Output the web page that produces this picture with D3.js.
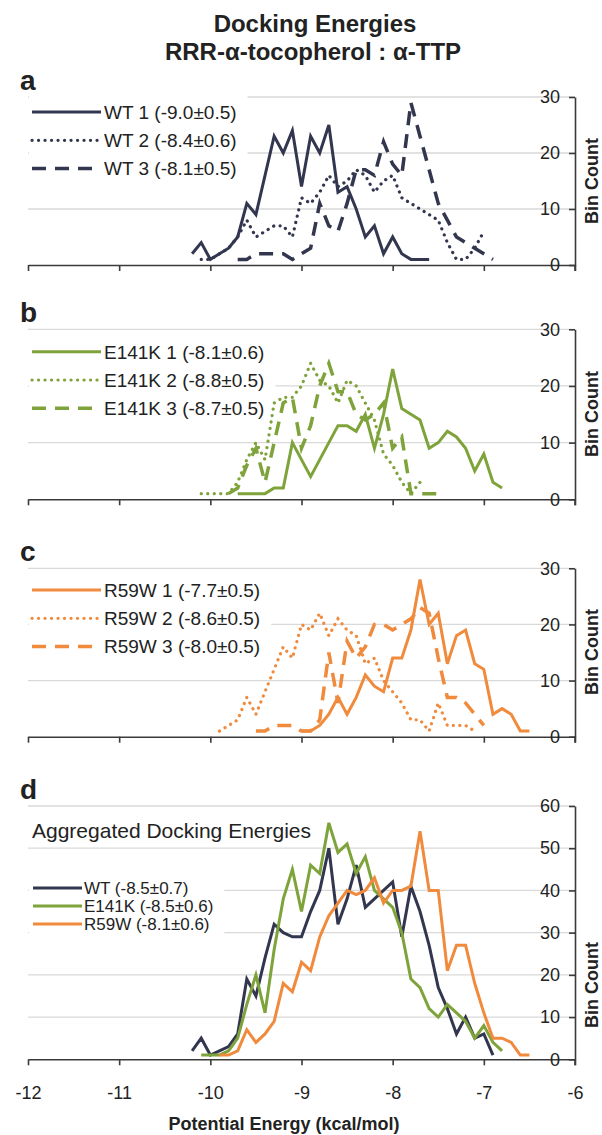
<!DOCTYPE html>
<html><head><meta charset="utf-8">
<script src="https://cdn.jsdelivr.net/npm/d3@7"></script>
<style>
body{margin:0;background:#fff}
svg text{font-family:"Liberation Sans",Arial,Helvetica,sans-serif;fill:#222}
</style>
</head><body>
<svg id="chart" width="602" height="1135"></svg>
<script>
// ---------- DATA ----------
const bins = [-10.2,-10.1,-10.0,-9.9,-9.8,-9.7,-9.6,-9.5,-9.4,-9.3,-9.2,-9.1,-9.0,-8.9,-8.8,-8.7,-8.6,-8.5,-8.4,-8.3,-8.2,-8.1,-8.0,-7.9,-7.8,-7.7,-7.6,-7.5,-7.4,-7.3,-7.2,-7.1,-7.0,-6.9,-6.8,-6.7,-6.6,-6.5];
const xTicks = [-12,-11,-10,-9,-8,-7,-6];
const yTicksRun = [0,10,20,30];
const yTicksAgg = [0,10,20,30,40,50,60];

const titleLines = ["Docking Energies","RRR-\u03b1-tocopherol : \u03b1-TTP"];
const xTitle = "Potential Energy (kcal/mol)";
const yTitle = "Bin Count";
const aggTitle = "Aggregated Docking Energies";

const WT1_START = -10.2;
const WT1 = [2,4,1,2,3,5,11,9,16,23,20,24,14,23,20,25,13,14,10,5,7,2,5,2,1,1,1];
const WT2_START = -10.1;
const WT2 = [1,1,2,3,5,8,5,6,7,7,5,12,11,13,16,14,15,17,16,13,15,16,12,11,10,9,8,4,1,1,3,6];
const WT3_START = -9.7;
const WT3 = [1,1,2,2,2,2,1,2,3,11,7,6,11,17,17,16,22,18,16,29,23,17,11,8,5,4,3,2,1];

const E1_START = -9.7;
const E1 = [1,1,1,1,2,2,10,7,4,7,10,13,13,12,15,9,15,23,16,15,14,9,10,12,11,9,5,8,3,2];
const E2_START = -10.1;
const E2 = [1,1,1,1,3,7,10,7,17,18,18,20,24,21,20,17,21,20,17,14,8,6,3,1,3];
const E3_START = -9.8;
const E3 = [1,2,6,9,3,10,17,18,9,13,20,24,19,19,15,14,15,17,9,11,1,1,1,1];

const R1_START = -9.0;
const R1 = [1,1,2,4,7,4,7,11,9,8,14,14,19,28,20,22,13,18,19,13,12,4,5,4,1,1];
const R2_START = -9.9;
const R2 = [1,2,3,7,4,8,12,16,14,20,19,22,18,21,19,18,13,14,10,8,6,3,3,1,6,2,2,2,1];
const R3_START = -9.5;
const R3 = [1,1,2,2,2,1,1,3,15,6,17,14,16,20,20,19,20,21,23,22,14,7,7,6,4,2];

const WT_ALL_START = -10.2;
const WT_ALL = [2,5,1,2,3,6,19,15,24,32,30,29,29,35,40,50,32,38,46,36,38,40,42,29,41,35,27,17,12,6,10,5,6,1];
const E_ALL_START = -10.1;
const E_ALL = [1,1,1,2,5,13,20,11,26,38,45,35,46,44,56,49,51,44,48,40,38,36,30,19,17,12,10,13,11,9,5,8,4,2];
const R_ALL_START = -9.9;
const R_ALL = [1,1,2,7,4,6,9,18,16,23,21,29,34,37,40,39,40,43,37,40,40,41,54,40,40,21,27,27,18,11,5,5,4,1,1];

const labelsA = ["WT 1 (-9.0\u00b10.5)","WT 2 (-8.4\u00b10.6)","WT 3 (-8.1\u00b10.5)"];
const labelsB = ["E141K 1 (-8.1\u00b10.6)","E141K 2 (-8.8\u00b10.5)","E141K 3 (-8.7\u00b10.5)"];
const labelsC = ["R59W 1 (-7.7\u00b10.5)","R59W 2 (-8.6\u00b10.5)","R59W 3 (-8.0\u00b10.5)"];
const labelsD = ["WT (-8.5\u00b10.7)","E141K (-8.5\u00b10.6)","R59W (-8.1\u00b10.6)"];
const panelLetters = ["a","b","c","d"];

// ---------- STYLE ----------
const cDark = "#33364f", cGreen = "#7fa33b", cOrange = "#f08a3c";
const styles = {
  solid: {dash: null, w: 3, cap: "butt"},
  dot:   {dash: "0.1 6.4", w: 3.2, cap: "round"},
  dash:  {dash: "14 9", w: 3.5, cap: "butt"}
};

function toPoints(start, counts) {
  const i0 = bins.findIndex(b => Math.abs(b - start) < 1e-9);
  return counts.map((c, i) => ({e: bins[i0 + i], c}));
}

const svg = d3.select("#chart");
const x = d3.scaleLinear().domain([-12, -6]).range([28, 575]);

const panels = [
  {letter: panelLetters[0], y0: 265, yTop: 97, ymax: 30, ticks: yTicksRun, binY: 181,
   legend: {rows: [112, 140.3, 168.6], x1: 32, x2: 101, tx: 104, fs: 19, boxTop: 95, boxBot: 184},
   series: [
     {pts: toPoints(WT1_START, WT1), color: cDark, st: "solid", label: labelsA[0]},
     {pts: toPoints(WT2_START, WT2), color: cDark, st: "dot", label: labelsA[1]},
     {pts: toPoints(WT3_START, WT3), color: cDark, st: "dash", label: labelsA[2]}]},
  {letter: panelLetters[1], y0: 499.3, yTop: 329.3, ymax: 30, ticks: yTicksRun, binY: 414,
   legend: {rows: [351.7, 380, 408.3], x1: 32, x2: 101, tx: 104, fs: 19, boxTop: 336, boxBot: 425},
   series: [
     {pts: toPoints(E1_START, E1), color: cGreen, st: "solid", label: labelsB[0]},
     {pts: toPoints(E2_START, E2), color: cGreen, st: "dot", label: labelsB[1]},
     {pts: toPoints(E3_START, E3), color: cGreen, st: "dash", label: labelsB[2]}]},
  {letter: panelLetters[2], y0: 736.7, yTop: 568.3, ymax: 30, ticks: yTicksRun, binY: 652,
   legend: {rows: [590, 618.3, 646.6], x1: 32, x2: 101, tx: 104, fs: 19, boxTop: 574, boxBot: 662},
   series: [
     {pts: toPoints(R1_START, R1), color: cOrange, st: "solid", label: labelsC[0]},
     {pts: toPoints(R2_START, R2), color: cOrange, st: "dot", label: labelsC[1]},
     {pts: toPoints(R3_START, R3), color: cOrange, st: "dash", label: labelsC[2]}]},
  {letter: panelLetters[3], y0: 1059.3, yTop: 806, ymax: 60, ticks: yTicksAgg, binY: 985, showX: true,
   legend: {rows: [888, 906, 924], x1: 33, x2: 82, tx: 84, fs: 17, boxTop: 873, boxBot: 940},
   series: [
     {pts: toPoints(WT_ALL_START, WT_ALL), color: cDark, st: "solid", label: labelsD[0]},
     {pts: toPoints(E_ALL_START, E_ALL), color: cGreen, st: "solid", label: labelsD[1]},
     {pts: toPoints(R_ALL_START, R_ALL), color: cOrange, st: "solid", label: labelsD[2]}]}
];

// Title
svg.append("text").attr("x", 315).attr("y", 32).attr("text-anchor", "middle")
  .attr("font-size", 24).attr("font-weight", "bold").text(titleLines[0]);
svg.append("text").attr("x", 313).attr("y", 60).attr("text-anchor", "middle")
  .attr("font-size", 24).attr("font-weight", "bold").text(titleLines[1]);

panels.forEach(p => {
  const y = d3.scaleLinear().domain([0, p.ymax]).range([p.y0, p.yTop]);
  const g = svg.append("g");

  // gridlines
  g.selectAll("line.grid").data(p.ticks.filter(t => t > 0)).join("line")
    .attr("class", "grid")
    .attr("x1", x(-12)).attr("x2", x(-6))
    .attr("y1", d => y(d)).attr("y2", d => y(d))
    .attr("stroke", "#d9d9d9").attr("stroke-width", 1.3);

  const bg = g.append("rect").attr("fill", "#fff");

  // series
  const line = d3.line().defined(d => d.c != null).x(d => x(d.e)).y(d => y(d.c));
  g.selectAll("path.series").data(p.series).join("path")
    .attr("class", "series")
    .attr("d", d => line(d.pts))
    .attr("fill", "none")
    .attr("stroke", d => d.color)
    .attr("stroke-width", d => styles[d.st].w)
    .attr("stroke-dasharray", d => styles[d.st].dash)
    .attr("stroke-linecap", d => styles[d.st].cap)
    .attr("stroke-linejoin", "miter");

  // x axis
  const xa = g.append("g").attr("transform", `translate(0,${p.y0})`)
    .call(d3.axisBottom(x).tickValues(xTicks).tickSize(6).tickSizeOuter(0).tickPadding(21)
      .tickFormat(d => p.showX ? String(d) : ""));
  xa.select(".domain").attr("stroke", "#3a3a3a").attr("stroke-width", 1.6);
  xa.selectAll(".tick line").attr("stroke", "#3a3a3a").attr("stroke-width", 1.6);
  xa.selectAll(".tick text").attr("font-size", 18).attr("fill", "#2a2a2a")
    .attr("font-family", '"Liberation Sans",Arial,sans-serif');

  // right y axis
  const ya = g.append("g").attr("transform", `translate(${x(-6)},0)`)
    .call(d3.axisLeft(y).tickValues(p.ticks).tickSize(6).tickSizeOuter(0).tickPadding(9)
      .tickFormat(d => String(d)));
  ya.select(".domain").attr("stroke", "#3a3a3a").attr("stroke-width", 1.6);
  ya.selectAll(".tick line").attr("stroke", "#3a3a3a").attr("stroke-width", 1.6);
  ya.selectAll(".tick text").attr("font-size", 18).attr("fill", "#2a2a2a")
    .attr("font-family", '"Liberation Sans",Arial,sans-serif');
  g.append("line").attr("x1", x(-6)).attr("x2", x(-6)).attr("y1", p.y0).attr("y2", p.y0 + 6)
    .attr("stroke", "#3a3a3a").attr("stroke-width", 1.6);

  // Bin Count label
  g.append("text").attr("transform", `translate(598,${p.binY}) rotate(-90)`)
    .attr("text-anchor", "middle").attr("font-size", 18).attr("font-weight", "bold").text(yTitle);

  // panel letter
  g.append("text").attr("x", 20).attr("y", p.yTop - 7).attr("font-size", 28)
    .attr("font-weight", "bold").text(p.letter);

  // legend
  const L = p.legend;
  const lg = g.append("g");
  const rows = lg.selectAll("g").data(p.series).join("g")
    .attr("transform", (d, i) => `translate(0,${L.rows[i]})`);
  rows.append("line").attr("x1", L.x1).attr("x2", L.x2)
    .attr("stroke", d => d.color)
    .attr("stroke-width", d => styles[d.st].w)
    .attr("stroke-dasharray", d => styles[d.st].dash)
    .attr("stroke-linecap", d => styles[d.st].cap);
  const texts = rows.append("text").attr("x", L.tx).attr("dy", "0.36em")
    .attr("font-size", L.fs).text(d => d.label);
  let maxEnd = 0;
  texts.each(function() { maxEnd = Math.max(maxEnd, L.tx + this.getComputedTextLength()); });
  bg.attr("x", x(-12) + 1).attr("y", L.boxTop).attr("width", maxEnd + 10 - x(-12))
    .attr("height", L.boxBot - L.boxTop);
});

// aggregated label in panel d
svg.append("text").attr("x", 32).attr("y", 838).attr("font-size", 21).text(aggTitle);

// x axis title
svg.append("text").attr("x", 284).attr("y", 1130).attr("text-anchor", "middle")
  .attr("font-size", 18).attr("font-weight", "bold").text(xTitle);
</script>
</body></html>
